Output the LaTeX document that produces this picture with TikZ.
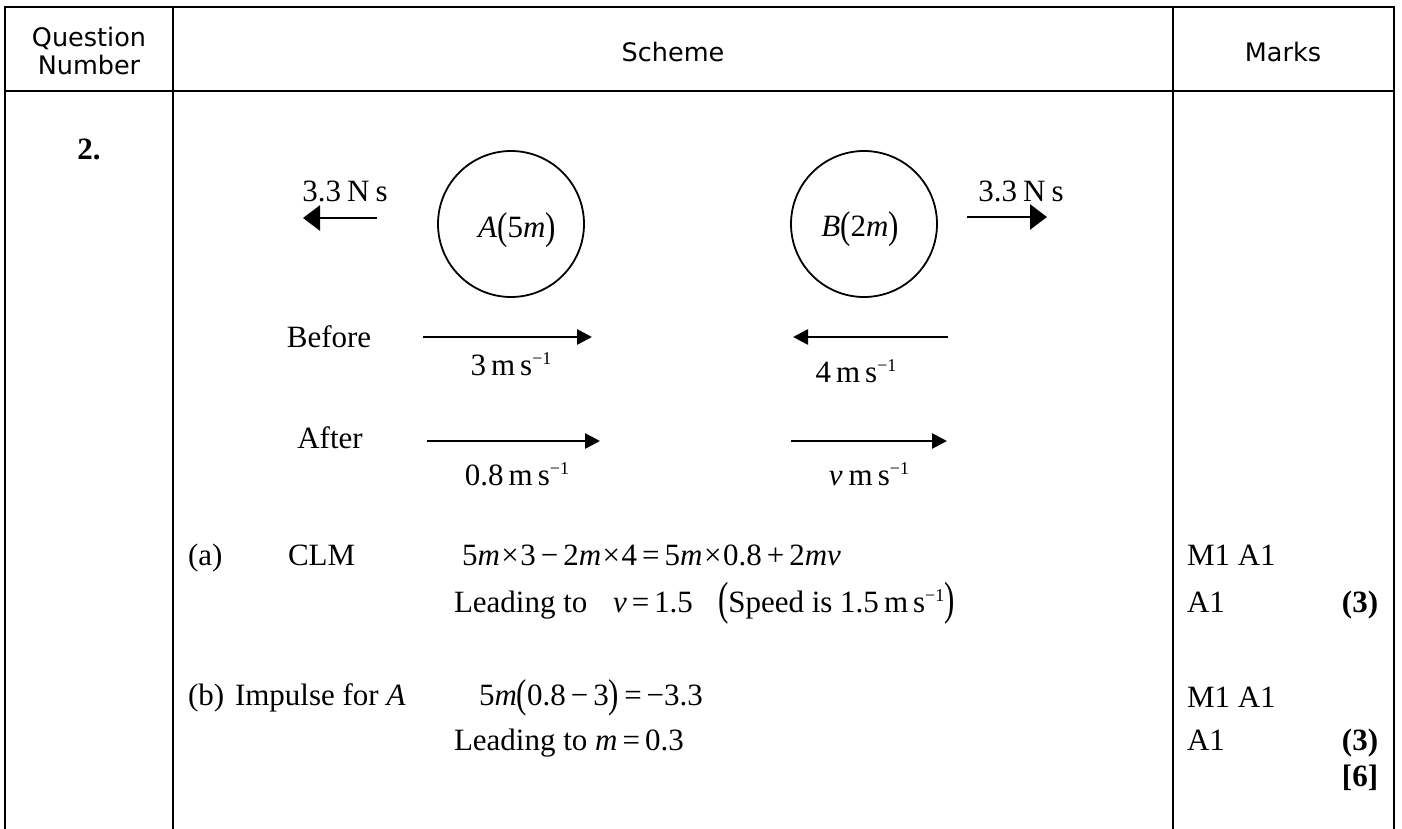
\documentclass[tikz,border=0pt]{standalone}
\usepackage{fontspec}
\setmainfont{Liberation Serif}
\newfontfamily\hdrfont{DejaVu Sans}
\usepackage{graphicx}
\usetikzlibrary{arrows.meta}
\newcommand{\unitms}{m\kern5pt s\raisebox{11pt}{\fontsize{18}{18}\selectfont −1}}
\newcommand{\lbig}[1]{\raisebox{-2pt}{\scalebox{1}[#1]{(}}}
\newcommand{\rbig}[1]{\raisebox{-2pt}{\scalebox{1}[#1]{)}}}
\newcommand{\opr}[1]{\kern5pt#1\kern5pt}
\newcommand{\tms}{\kern1.5pt×\kern1.5pt}
\begin{document}
\begin{tikzpicture}[x=1pt,y=-1pt,
  grid/.style={line width=2.7pt, line join=miter},
  ball/.style={circle, draw, line width=1.8pt, minimum size=146pt, inner sep=0pt},
  txt/.style={inner sep=0pt, outer sep=0pt, font=\fontsize{31}{37}\selectfont},
  bld/.style={inner sep=0pt, outer sep=0pt, font=\fontsize{31}{37}\selectfont\bfseries},
  hd/.style={inner sep=0pt, outer sep=0pt, font=\hdrfont\fontsize{25.5}{30}\selectfont},
  imp/.style={line width=2.7pt, -{Triangle[length=17pt,width=25pt]}},
  vel/.style={line width=2.7pt, -{Triangle[length=15pt,width=15pt]}}]
\useasboundingbox (0,0) rectangle (1402,829);
% table
\draw[grid] (5,829) -- (5,7) -- (1394,7) -- (1394,829);
\draw[grid] (5,91) -- (1394,91);
\draw[grid] (173,7) -- (173,829);
\draw[grid] (1173,7) -- (1173,829);
% headers
\node[hd, anchor=base] (qh1) at (89,47) {Question};
\node[hd, anchor=base] (qh2) at (89,75) {Number};
\node[hd, anchor=base] (sh) at (673,62) {Scheme};
\node[hd, anchor=base] (mh) at (1283,62) {Marks};
\node[bld, anchor=base] (qn) at (89,160) {2.};
% diagram
\node[txt, anchor=base] (fA) at (345,201) {3.3\kern6pt N\kern6pt s};
\coordinate (fAt) at (377,218); \coordinate (fAh) at (303,218);
\draw[imp] (fAt) -- (fAh);
\node[ball] (A) at (511,224) {};
\node[txt, anchor=base] (Al) at (517,237) {\textit{A}\lbig{1.25}5\textit{m}\rbig{1.25}};
\node[ball] (B) at (864,224) {};
\node[txt, anchor=base] (Bl) at (860,236) {\textit{B}\lbig{1.25}2\textit{m}\rbig{1.25}};
\node[txt, anchor=base] (fB) at (1021,201) {3.3\kern6pt N\kern6pt s};
\coordinate (fBt) at (967,217); \coordinate (fBh) at (1047,217);
\draw[imp] (fBt) -- (fBh);
\node[txt, anchor=base] (bef) at (329,347) {Before};
\coordinate (bAt) at (423,337); \coordinate (bAh) at (592,337);
\draw[vel] (bAt) -- (bAh);
\node[txt, anchor=base] (u1) at (511,375) {3\kern5pt\unitms};
\coordinate (bBt) at (948,337); \coordinate (bBh) at (793,337);
\draw[vel] (bBt) -- (bBh);
\node[txt, anchor=base] (u2) at (856,382) {4\kern5pt\unitms};
\node[txt, anchor=base] (aft) at (330,448) {After};
\coordinate (aAt) at (427,441); \coordinate (aAh) at (600,441);
\draw[vel] (aAt) -- (aAh);
\node[txt, anchor=base] (v1) at (517,485) {0.8\kern5pt\unitms};
\coordinate (aBt) at (791,441); \coordinate (aBh) at (947,441);
\draw[vel] (aBt) -- (aBh);
\node[txt, anchor=base] (v2) at (869,485) {\textit{v}\kern6pt\unitms};
% part (a)
\node[txt, anchor=base west] (pa) at (188,565) {(a)};
\node[txt, anchor=base west] (clm) at (288,565) {CLM};
\node[txt, anchor=base west] (eqa) at (462,565) {5\textit{m}\tms3\opr{−}2\textit{m}\tms4\opr{=}5\textit{m}\tms0.8\opr{+}2\textit{mv}};
\node[txt, anchor=base west] (lda) at (454,612) {Leading to};
\node[txt, anchor=base west] (ldav) at (613,612) {\textit{v}\opr{=}1.5};
\node[txt, anchor=base west] (spd) at (718,612) {\lbig{1.5}Speed is 1.5\kern5pt\unitms\rbig{1.5}};
% part (b)
\node[txt, anchor=base west] (pb) at (188,705) {(b)};
\node[txt, anchor=base west] (imp) at (235,705) {Impulse for \textit{A}};
\node[txt, anchor=base west] (eqb) at (479,705) {5\textit{m}\lbig{1.3}0.8\opr{−}3\rbig{1.3}\opr{=}−3.3};
\node[txt, anchor=base west] (ldb) at (454,750) {Leading to \textit{m}\opr{=}0.3};
% marks
\node[txt, anchor=base west] (ma1) at (1187,565) {M1 A1};
\node[txt, anchor=base west] (ma2) at (1187,612) {A1};
\node[bld, anchor=base] (mk1) at (1360,612) {(3)};
\node[txt, anchor=base west] (mb1) at (1187,707) {M1 A1};
\node[txt, anchor=base west] (mb2) at (1187,750) {A1};
\node[bld, anchor=base] (mk2) at (1360,750) {(3)};
\node[bld, anchor=base] (mk3) at (1360,786) {[6]};
\end{tikzpicture}
\end{document}
